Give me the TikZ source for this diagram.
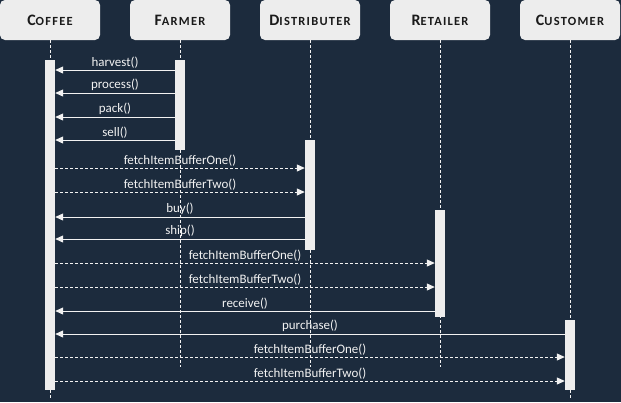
\documentclass[tikz,border=0pt]{standalone}
\usepackage{fontspec}
\setmainfont{Carlito}
\newfontfamily\headfont{Carlito}[LetterSpace=10]
\usetikzlibrary{arrows.meta}
\definecolor{bgnavy}{HTML}{1C2B3D}
\definecolor{boxgray}{HTML}{EDEDED}
\definecolor{inkdark}{HTML}{1A1A1A}
\definecolor{linegray}{HTML}{F2F2F2}
% 伪小型大写: 首字母大写, 其余缩小
\def\fakesc#1#2\relax{#1{\fontsize{12.5}{14}\selectfont\MakeUppercase{#2}}}

\begin{document}
\begin{tikzpicture}[x=1bp, y=-1bp, % 按像素坐标作图, y 向下
	actor/.style={fill=boxgray, rounded corners=5bp, minimum width=100bp,
		minimum height=40bp, text=inkdark,
		font=\headfont\bfseries\fontsize{16}{18}\selectfont},
	lifeline/.style={linegray, line width=1bp, dash pattern=on 3bp off 2bp},
	bar/.style={fill=boxgray, minimum width=10bp, inner sep=0pt, anchor=north},
	call/.style={linegray, line width=1bp, -{Triangle[length=8bp, width=7bp]}},
	reply/.style={call, dash pattern=on 3bp off 2bp},
	lbl/.style={above, inner sep=1.5bp, text=linegray,
		font=\fontsize{13}{15}\selectfont}]
		% 背景
		\fill[bgnavy] (0, 0) rectangle (621, 402);
		% 顶部的参与者
		\foreach \n/\x/\t in {coffee/50/Coffee, farmer/180/Farmer,
			distributer/310/Distributer, retailer/440/Retailer,
			customer/570/Customer}
			\node[actor] (\n) at (\x, 20) {\expandafter\fakesc\t\relax};
		% 生命线
		\foreach \n/\y in {coffee/400, farmer/367, distributer/367,
			retailer/367, customer/400} {
			\coordinate (\n-end) at (\n |- 0, \y);
			\draw[lifeline] (\n) -- (\n-end);
		}
		% 激活条
		\foreach \n/\top/\bot in {coffee/60/390, farmer/60/150,
			distributer/140/250, retailer/210/317, customer/320/390}
			\node[bar, minimum height={(\bot-\top)*1bp}]
				(\n-bar) at (\n |- 0, \top) {};
		% 发给 Coffee 的消息
		\foreach \y/\n/\t in {70/farmer/harvest(), 93/farmer/process(),
			117/farmer/pack(), 140/farmer/sell(), 217/distributer/buy(),
			239/distributer/ship(), 311/retailer/receive(),
			334/customer/purchase()}
			\draw[call] (\n-bar.west |- 0, \y) -- (coffee-bar.east |- 0, \y)
				node[lbl, midway] {\t};
		% Coffee 发出的查询
		\foreach \y/\n/\t in {168/distributer/fetchItemBufferOne(),
			192/distributer/fetchItemBufferTwo(),
			263/retailer/fetchItemBufferOne(),
			287/retailer/fetchItemBufferTwo(),
			357/customer/fetchItemBufferOne(),
			381/customer/fetchItemBufferTwo()}
			\draw[reply] (coffee-bar.east |- 0, \y) -- (\n-bar.west |- 0, \y)
				node[lbl, midway] {\t};
	\end{tikzpicture}
\end{document}
